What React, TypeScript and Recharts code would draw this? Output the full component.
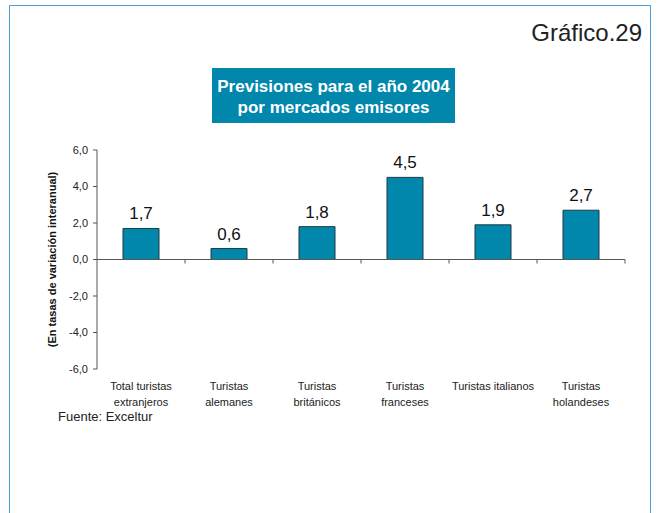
import React from 'react';
import { BarChart, Bar, XAxis, YAxis, ReferenceLine, LabelList } from 'recharts';

const categories = [
  'Total turistas\nextranjeros',
  'Turistas\nalemanes',
  'Turistas\nbritánicos',
  'Turistas\nfranceses',
  'Turistas italianos',
  'Turistas\nholandeses',
];
const values = [1.7, 0.6, 1.8, 4.5, 1.9, 2.7];
const yTicks = [-6, -4, -2, 0, 2, 4, 6];
const chartTitle = ['Previsiones para el año 2004', 'por mercados emisores'];
const chartNumber = 'Gráfico.29';
const yLabel = '(En tasas de variación interanual)';
const source = 'Fuente: Exceltur';

const data = categories.map((c, i) => ({ name: c, value: values[i] }));

const FONT = '"Liberation Sans", Arial, Helvetica, sans-serif';
const BLUE = '#0087AB';

const fmt = (v: any) => Number(v).toFixed(1).replace('.', ',');

const XTick = (props: any) => {
  const { x, y, payload } = props;
  const lines = String(payload.value).split('\n');
  return (
    <text x={x} y={y} textAnchor="middle" fontSize={11} fill="#222" fontFamily={FONT}>
      {lines.map((l: string, i: number) => (
        <tspan key={i} x={x} dy={i === 0 ? 19 : 15.5}>
          {l}
        </tspan>
      ))}
    </text>
  );
};

const ZeroAxis = (props: any) => {
  const { x1, y1, x2, y2 } = props;
  const n = categories.length;
  const step = (x2 - x1) / n;
  return (
    <g>
      <line x1={x1} y1={y1} x2={x2} y2={y2} stroke="#555" strokeWidth={1} />
      {categories.map((_, i) => (
        <line
          key={i}
          x1={x1 + step * (i + 1)}
          x2={x1 + step * (i + 1)}
          y1={y1}
          y2={y1 + 4}
          stroke="#555"
          strokeWidth={1}
        />
      ))}
    </g>
  );
};

const YLabel = (props: any) => {
  const vb = props.viewBox || {};
  const cx = vb.x - 5;
  const cy = vb.y + vb.height / 2;
  return (
    <text
      x={cx}
      y={cy}
      transform={`rotate(-90, ${cx}, ${cy})`}
      textAnchor="middle"
      dominantBaseline="central"
      fontSize={11}
      fontWeight="bold"
      fill="#111"
      fontFamily={FONT}
    >
      {yLabel}
    </text>
  );
};

export default function App() {
  return (
    <div
      style={{
        position: 'absolute',
        left: 0,
        top: 0,
        width: 659,
        height: 513,
        overflow: 'hidden',
        background: '#fff',
        fontFamily: FONT,
      }}
    >
      <div
        style={{
          position: 'absolute',
          left: 9,
          top: 5,
          width: 642,
          height: 540,
          border: '1.5px solid #4A9FD4',
          boxSizing: 'border-box',
        }}
      />
      <div
        style={{
          position: 'absolute',
          right: 17,
          top: 20,
          fontSize: 24,
          lineHeight: '26px',
          color: '#222',
        }}
      >
        {chartNumber}
      </div>
      <div
        style={{
          position: 'absolute',
          left: 212,
          top: 68,
          width: 243,
          height: 55,
          background: BLUE,
          color: '#fff',
          fontWeight: 'bold',
          fontSize: 17,
          lineHeight: '21px',
          textAlign: 'center',
          boxSizing: 'border-box',
          paddingTop: 8,
        }}
      >
        {chartTitle.map((t, i) => (
          <div key={i}>{t}</div>
        ))}
      </div>
      <div
        style={{
          position: 'absolute',
          left: 58,
          top: 409,
          fontSize: 13,
          lineHeight: '16px',
          color: '#222',
        }}
      >
        {source}
      </div>
      <div style={{ position: 'absolute', left: 0, top: 0 }}>
        <BarChart
          width={659}
          height={513}
          data={data}
          margin={{ top: 150, right: 34, bottom: 114, left: 57 }}
        >
          <XAxis
            dataKey="name"
            axisLine={false}
            tickLine={false}
            tickSize={0}
            height={30}
            interval={0}
            tick={<XTick />}
          />
          <YAxis
            domain={[-6, 6]}
            ticks={yTicks}
            width={40}
            tickFormatter={fmt}
            tickSize={4}
            tickMargin={5}
            axisLine={{ stroke: '#555' }}
            tickLine={{ stroke: '#555' }}
            tick={{ fontSize: 11, fill: '#222', fontFamily: FONT }}
            label={<YLabel />}
          />
          <ReferenceLine y={0} shape={<ZeroAxis />} ifOverflow="visible" />
          <Bar
            dataKey="value"
            fill={BLUE}
            stroke="#1E3A44"
            strokeWidth={1}
            barSize={36}
            isAnimationActive={false}
          >
            <LabelList
              dataKey="value"
              position="top"
              offset={9}
              formatter={fmt}
              fontSize={17}
              fill="#111"
              fontFamily={FONT}
            />
          </Bar>
        </BarChart>
      </div>
    </div>
  );
}
